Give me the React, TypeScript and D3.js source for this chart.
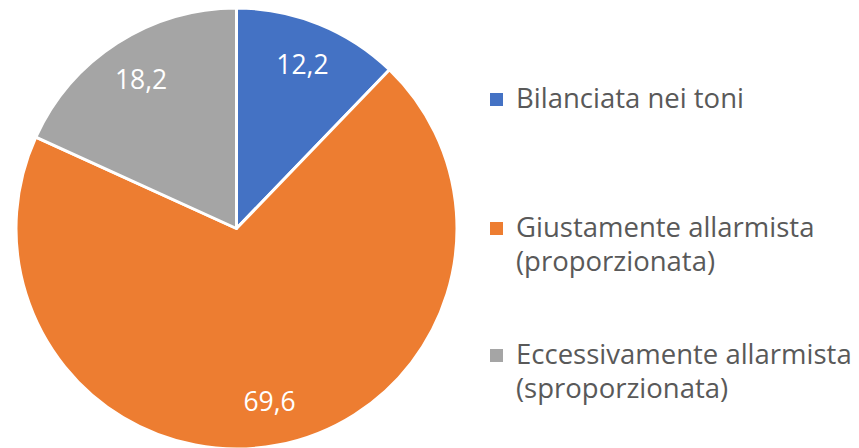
import React from "react";
import * as d3 from "d3";

const categories = ["Bilanciata nei toni", "Giustamente allarmista (proporzionata)", "Eccessivamente allarmista (sproporzionata)"];
const legendLines = [["Bilanciata nei toni"], ["Giustamente allarmista", "(proporzionata)"], ["Eccessivamente allarmista", "(sproporzionata)"]];
const values = [12.2, 69.6, 18.2];
const valueLabels = ["12,2", "69,6", "18,2"];
const colors = ["#4472C4", "#ED7D31", "#A5A5A5"];

const W = 859;
const H = 448;
const cx = 236.5;
const cy = 228.5;
const R = 220.5;
const FONT = "'Open Sans', 'Noto Sans', sans-serif";
const FS_LABEL = 26.5;
const FS_LEGEND = 27.5;

export default function App() {
  const pie = d3.pie<number>().sort(null).value((d) => d)(values);
  const arc = d3.arc<d3.PieArcDatum<number>>().innerRadius(0).outerRadius(R);
  const labelArc = d3.arc<d3.PieArcDatum<number>>().innerRadius(R * 0.8).outerRadius(R * 0.8);
  const legendY = [108, 237, 364];
  const lineH = 34;
  return (
    <svg width={W} height={H} style={{ position: "absolute", left: 0, top: 0 }}>
      <rect width={W} height={H} fill="#fff" />
      <g transform={`translate(${cx},${cy})`}>
        {pie.map((p, i) => (
          <path key={i} d={arc(p) || ""} fill={colors[i]} stroke="#fff" strokeWidth={3} strokeLinejoin="round" />
        ))}
        {pie.map((p, i) => {
          const [x, y] = labelArc.centroid(p);
          return (
            <text key={i} x={x} y={y} dy="0.35em" textAnchor="middle" fill="#fff" fontFamily={FONT} fontSize={FS_LABEL}>
              {valueLabels[i]}
            </text>
          );
        })}
      </g>
      {categories.map((c, i) => (
        <g key={c}>
          <rect x={490} y={legendY[i] - 15} width={13} height={13} fill={colors[i]} />
          {legendLines[i].map((l, j) => (
            <text key={j} x={516} y={legendY[i] + j * lineH} fill="#595959" fontFamily={FONT} fontSize={FS_LEGEND}>
              {l}
            </text>
          ))}
        </g>
      ))}
    </svg>
  );
}
